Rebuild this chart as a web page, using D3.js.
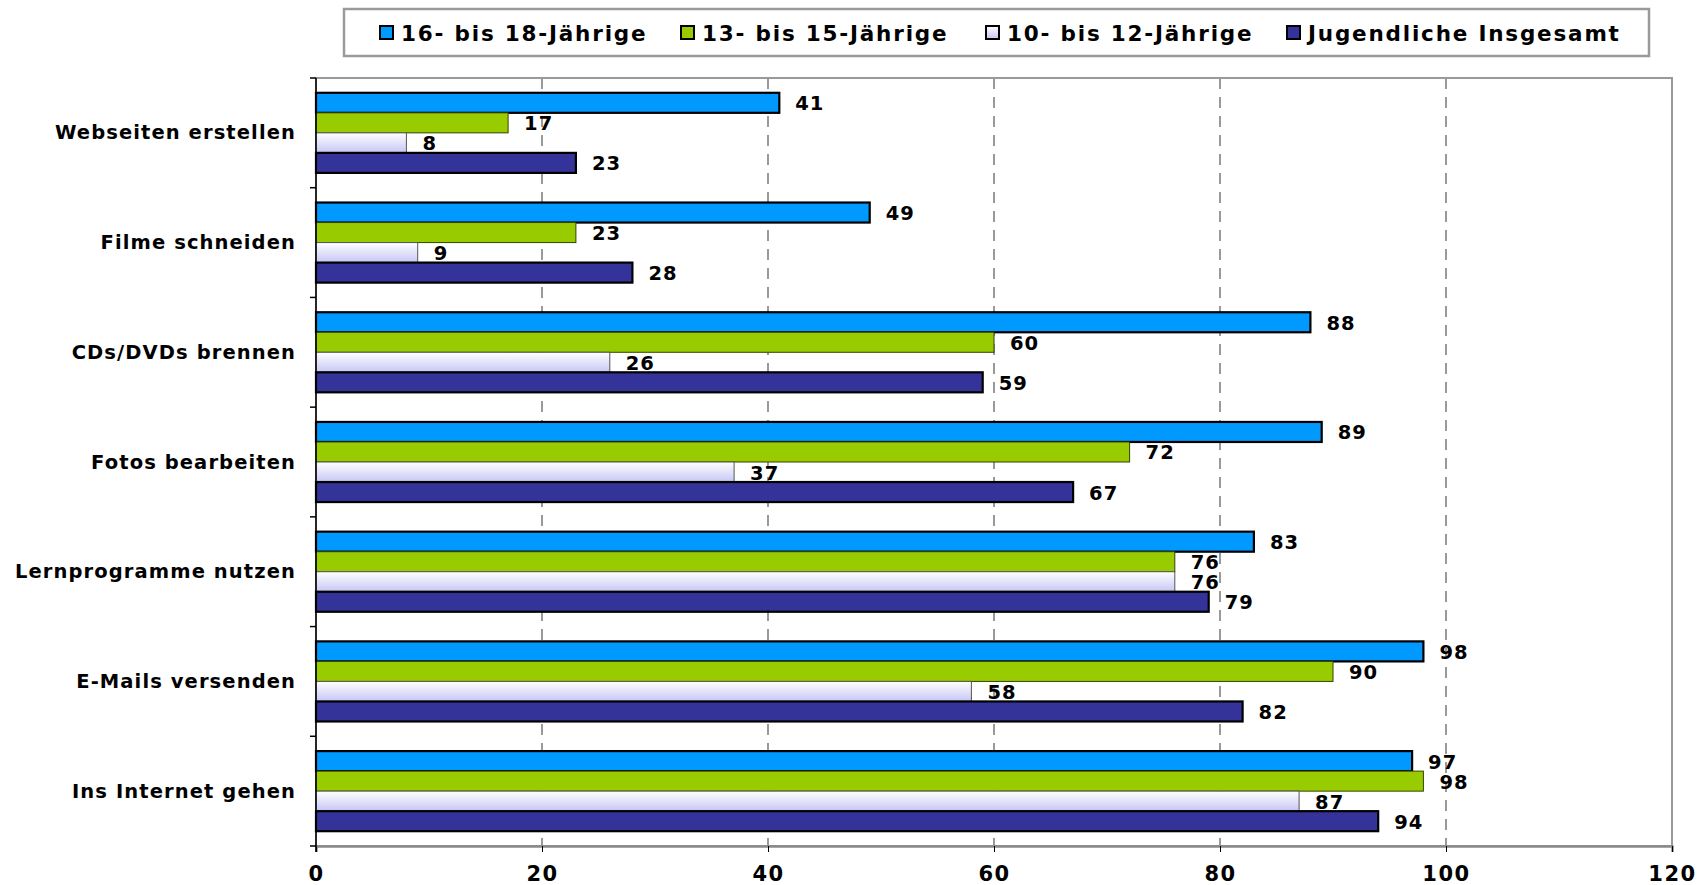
<!DOCTYPE html>
<html lang="de">
<head>
<meta charset="utf-8">
<script src="https://cdn.jsdelivr.net/npm/d3@7"></script>
<style>
  html, body { margin: 0; padding: 0; background: #fff; }
  svg { display: block; font-family: "DejaVu Sans", Verdana, sans-serif; font-weight: bold; }
</style>
</head>
<body>
<svg id="chart" width="1707" height="885"></svg>
<script>
// Tätigkeiten am Computer, Anteil in Prozent nach Altersgruppe
const categories = [
  "Webseiten erstellen",
  "Filme schneiden",
  "CDs/DVDs brennen",
  "Fotos bearbeiten",
  "Lernprogramme nutzen",
  "E-Mails versenden",
  "Ins Internet gehen"
];
const seriesNames = ["16- bis 18-Jährige", "13- bis 15-Jährige", "10- bis 12-Jährige", "Jugendliche Insgesamt"];
const values16to18 = [41, 49, 88, 89, 83, 98, 97];
const values13to15 = [17, 23, 60, 72, 76, 90, 98];
const values10to12 = [8, 9, 26, 37, 76, 58, 87];
const valuesTotal  = [23, 28, 59, 67, 79, 82, 94];
const xTicks = [0, 20, 40, 60, 80, 100, 120];

const seriesValues = [values16to18, values13to15, values10to12, valuesTotal];

const svg = d3.select("#chart");
const defs = svg.append("defs");

// light series: vertical white-to-lavender fade
const grad = defs.append("linearGradient")
  .attr("id", "lightFill").attr("x1", 0).attr("y1", 0).attr("x2", 0).attr("y2", 1);
grad.append("stop").attr("offset", "0%").attr("stop-color", "#ffffff");
grad.append("stop").attr("offset", "100%").attr("stop-color", "#c6c6f6");

const styles = [
  { fill: "#0099ff", stroke: "#000000", sw: 2.2 },
  { fill: "#99cc00", stroke: "#334400", sw: 1 },
  { fill: "url(#lightFill)", stroke: "#555555", sw: 1 },
  { fill: "#333399", stroke: "#000000", sw: 2.2 }
];

const plot = { left: 316, right: 1672, top: 78, bottom: 846 };

const x = d3.scaleLinear().domain([0, 120]).range([plot.left, plot.right]);
const y = d3.scaleBand().domain(categories).range([plot.top, plot.bottom])
  .paddingInner(0.27).paddingOuter(0.135);
const ySub = d3.scaleBand().domain(seriesNames).range([0, y.bandwidth()]);

// plot area frame
svg.append("rect")
  .attr("x", plot.left).attr("y", plot.top)
  .attr("width", plot.right - plot.left).attr("height", plot.bottom - plot.top)
  .attr("fill", "#fff").attr("stroke", "#9a9a9a").attr("stroke-width", 2);

// dashed vertical gridlines
svg.append("g").selectAll("line")
  .data(xTicks.filter(t => t > 0 && t < 120))
  .join("line")
  .attr("x1", d => x(d)).attr("x2", d => x(d))
  .attr("y1", plot.top).attr("y2", plot.bottom)
  .attr("stroke", "#9a9a9a").attr("stroke-width", 2)
  .attr("stroke-dasharray", "11,8");

// bars
const rows = categories.map((c, i) => ({ cat: c, vals: seriesValues.map(s => s[i]) }));
const groups = svg.append("g").selectAll("g")
  .data(rows).join("g")
  .attr("transform", d => `translate(0,${y(d.cat)})`);

groups.selectAll("rect")
  .data(d => d.vals.map((v, k) => ({ v, k, name: seriesNames[k] })))
  .join("rect")
  .attr("x", x(0))
  .attr("y", d => ySub(d.name))
  .attr("width", d => x(d.v) - x(0))
  .attr("height", ySub.bandwidth())
  .attr("fill", d => styles[d.k].fill)
  .attr("stroke", d => styles[d.k].stroke)
  .attr("stroke-width", d => styles[d.k].sw);

// value labels
groups.selectAll("text")
  .data(d => d.vals.map((v, k) => ({ v, k, name: seriesNames[k] })))
  .join("text")
  .attr("x", d => x(d.v) + 16)
  .attr("y", d => ySub(d.name) + ySub.bandwidth() / 2 + 1)
  .attr("dominant-baseline", "central")
  .attr("font-size", 19.5)
  .attr("letter-spacing", 1)
  .attr("fill", "#000")
  .text(d => d.v);

// x axis
const xAxis = svg.append("g")
  .attr("transform", `translate(0,${plot.bottom})`)
  .call(d3.axisBottom(x).tickValues(xTicks).tickSize(6).tickPadding(14));
xAxis.select(".domain").attr("stroke", "#8a8a8a").attr("stroke-width", 2.5);
xAxis.selectAll(".tick line").attr("stroke", "#000");
xAxis.selectAll(".tick text")
  .attr("font-family", "'DejaVu Sans', Verdana, sans-serif")
  .attr("font-weight", "bold").attr("font-size", 21)
  .attr("letter-spacing", 1.5).attr("fill", "#000");

// y axis line with ticks at category boundaries
const half = y.step() * y.paddingInner() / 2;
const bounds = categories.map(c => y(c) - half).concat([plot.bottom]);
const yAxis = svg.append("g");
yAxis.append("line")
  .attr("x1", plot.left).attr("x2", plot.left)
  .attr("y1", plot.top).attr("y2", plot.bottom + 6)
  .attr("stroke", "#000").attr("stroke-width", 1.5);
yAxis.selectAll("line.tk").data(bounds).join("line").attr("class", "tk")
  .attr("x1", plot.left - 6).attr("x2", plot.left)
  .attr("y1", d => d).attr("y2", d => d)
  .attr("stroke", "#000").attr("stroke-width", 1.5);

// category labels
svg.append("g").selectAll("text")
  .data(categories).join("text")
  .attr("x", plot.left - 20)
  .attr("y", d => y(d) + y.bandwidth() / 2)
  .attr("text-anchor", "end")
  .attr("dominant-baseline", "central")
  .attr("font-size", 19.5)
  .attr("letter-spacing", 1.1)
  .attr("fill", "#000")
  .text(d => d);

// legend
const legend = svg.append("g");
legend.append("rect")
  .attr("x", 344).attr("y", 9).attr("width", 1305).attr("height", 47)
  .attr("fill", "#fff").attr("stroke", "#9a9a9a").attr("stroke-width", 2.5);
const legendX = [401, 702, 1007, 1308];
const items = legend.selectAll("g.item").data(seriesNames).join("g").attr("class", "item")
  .attr("transform", (d, i) => `translate(${legendX[i]},33)`);
items.append("rect")
  .attr("x", -21).attr("y", -7).attr("width", 13).attr("height", 13)
  .attr("fill", (d, i) => styles[i].fill)
  .attr("stroke", "#000").attr("stroke-width", 2);
items.append("text")
  .attr("x", 0).attr("y", 0)
  .attr("dominant-baseline", "central")
  .attr("font-size", 21.5)
  .attr("letter-spacing", 1.8)
  .attr("fill", "#000")
  .text(d => d);
</script>
</body>
</html>
